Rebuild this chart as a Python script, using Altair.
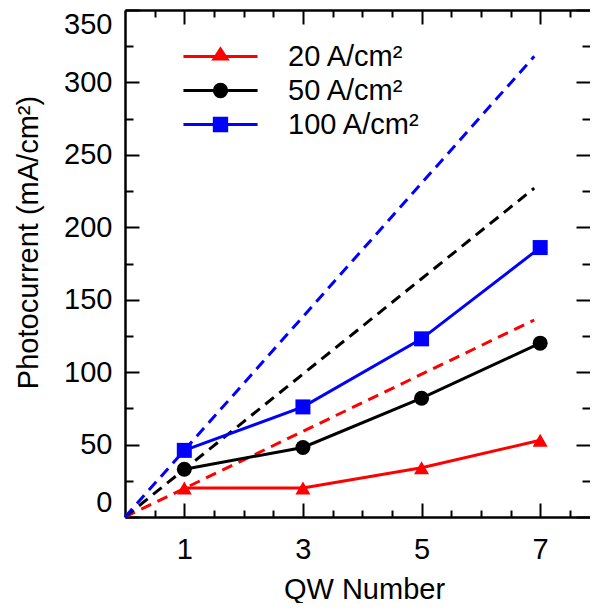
import altair as alt
import pandas as pd

# ---- data ----
series = ["20 A/cm²", "50 A/cm²", "100 A/cm²"]
colors = ["#FF0000", "#000000", "#0000FF"]
markers = ["triangle-up", "circle", "square"]
qw = [1, 3, 5, 7]
j20 = [20, 20, 34, 53]
j50 = [33, 48, 82, 120]
j100 = [46, 76, 123, 186]
ideal_x = [0, 6.9]
ideal20 = [0, 136]
ideal50 = [0, 227]
ideal100 = [0, 318]

x_labels = [1, 3, 5, 7]
x_ticks = [0.5, 1, 1.5, 2, 2.5, 3, 3.5, 4, 4.5, 5, 5.5, 6, 6.5, 7, 7.5]
y_labels = [0, 50, 100, 150, 200, 250, 300, 350]
y_ticks = [0, 25, 50, 75, 100, 125, 150, 175, 200, 225, 250, 275, 300, 325, 350]

rows = []
for s, vals in zip(series, [j20, j50, j100]):
    for x, v in zip(qw, vals):
        rows.append({"series": s, "qw": x, "j": v})
meas = pd.DataFrame(rows)

rows = []
for s, vals in zip(series, [ideal20, ideal50, ideal100]):
    for x, v in zip(ideal_x, vals):
        rows.append({"series": s, "qw": x, "j": v})
ideal = pd.DataFrame(rows)

# ---- styling ----
F = "Liberation Sans"
FS = 29
W, H = 465, 507

xs = alt.Scale(domain=[0, 7.84], nice=False, zero=False)
ys = alt.Scale(domain=[0, 350], nice=False)
cs = alt.Scale(domain=series, range=colors)

tick_x = {"condition": {"test": "datum.value % 2 == 1", "value": 14}, "value": 7}
tick_y = {"condition": {"test": "datum.value % 50 == 0", "value": 14}, "value": 8}
dom = dict(domainColor="black", domainWidth=2.5)

ax_x_lab = alt.Axis(orient="bottom", values=x_labels, ticks=False, tickSize=0, domain=False,
                    grid=False, labelFont=F, labelFontSize=FS, labelColor="black",
                    labelBaseline="alphabetic", labelPadding=41,
                    title="QW Number", titleFont=F, titleFontSize=FS, titleFontWeight="normal",
                    titleColor="black", titleBaseline="alphabetic", titleY=81, titleX=239)
ax_y_lab = alt.Axis(orient="left", values=y_labels, ticks=False, tickSize=0, domain=False,
                    grid=False, labelFont=F, labelFontSize=FS, labelColor="black",
                    labelPadding=13, labelFlush=True, labelFlushOffset=0,
                    title="Photocurrent (mA/cm²)", titleFont=F, titleFontSize=FS,
                    titleFontWeight="normal", titleColor="black", titleBaseline="alphabetic",
                    titleX=-88, titleY=232)
ax_x_in_b = alt.Axis(orient="top", offset=-H, values=x_ticks, labels=False, domain=True,
                     grid=False, tickSize=tick_x, tickWidth=2, tickColor="black", title=None, **dom)
ax_x_in_t = alt.Axis(orient="bottom", offset=-H, values=x_ticks, labels=False, domain=True,
                     grid=False, tickSize=tick_x, tickWidth=2, tickColor="black", title=None, **dom)
ax_y_in_l = alt.Axis(orient="right", offset=-W, values=y_ticks, labels=False, domain=True,
                     grid=False, tickSize=tick_y, tickWidth=2, tickColor="black", title=None, **dom)
ax_y_in_r = alt.Axis(orient="left", offset=-W, values=y_ticks, labels=False, domain=False,
                     grid=False, tickSize=tick_y, tickWidth=2, tickColor="black", title=None)

axes_x = [ax_x_lab, ax_x_in_b, ax_x_in_t]
axes_y = [ax_y_lab, ax_y_in_l, ax_y_in_r]

layers = []
k = 0


def next_axes():
    global k
    if k < 3:
        xa, ya = axes_x[k], axes_y[k]
    else:
        xa, ya = None, None
    k += 1
    return xa, ya


for s, c in zip(series, colors):
    xa, ya = next_axes()
    layers.append(
        alt.Chart(ideal).transform_filter(alt.datum.series == s)
        .mark_line(strokeWidth=3, strokeDash=[11, 7], color=c)
        .encode(x=alt.X("qw:Q", scale=xs, axis=xa), y=alt.Y("j:Q", scale=ys, axis=ya))
    )
for s, c in zip(series, colors):
    xa, ya = next_axes()
    layers.append(
        alt.Chart(meas).transform_filter(alt.datum.series == s)
        .mark_line(strokeWidth=3, color=c)
        .encode(x=alt.X("qw:Q", scale=xs, axis=xa), y=alt.Y("j:Q", scale=ys, axis=ya))
    )
for s, c, m in zip(series, colors, markers):
    xa, ya = next_axes()
    layers.append(
        alt.Chart(meas).transform_filter(alt.datum.series == s)
        .mark_point(filled=True, size=225, opacity=1, shape=m, color=c)
        .encode(x=alt.X("qw:Q", scale=xs, axis=xa), y=alt.Y("j:Q", scale=ys, axis=ya))
    )

# legend symbols: line with marker, as custom symbol paths
paths = [
    "M-5.7,0H5.7M0,-1.15L1,0.4L-1,0.4Z",
    "M-5.7,0H5.7M-0.95,0A0.95,0.95,0,1,0,0.95,0A0.95,0.95,0,1,0,-0.95,0Z",
    "M-5.7,0H5.7M-0.95,-0.95H0.95V0.95H-0.95Z",
]
leg = alt.Legend(orient="none", legendX=81, legendY=32, title=None, labelFont=F,
                 labelFontSize=FS, labelColor="black", symbolSize=169, symbolStrokeWidth=3,
                 symbolOpacity=1, labelOffset=53, rowPadding=4, padding=0)
legend_layer = alt.Chart(meas).mark_point(filled=True, opacity=0).encode(
    x=alt.X("qw:Q", scale=xs, axis=None),
    y=alt.Y("j:Q", scale=ys, axis=None),
    fill=alt.Fill("series:N", scale=cs, legend=leg),
    stroke=alt.Stroke("series:N", scale=cs, legend=leg),
    shape=alt.Shape("series:N", scale=alt.Scale(domain=series, range=paths), legend=leg),
)
layers.append(legend_layer)

chart = alt.layer(*layers).resolve_axis(
    x="independent", y="independent"
).properties(
    width=W, height=H,
    autosize=alt.AutoSizeParams(type="none"),
    padding={"left": 117, "top": 2, "right": 0, "bottom": 86},
    background="white",
).configure_view(strokeWidth=0)

chart.save("out.html", embed_options={"renderer": "svg", "actions": False})
